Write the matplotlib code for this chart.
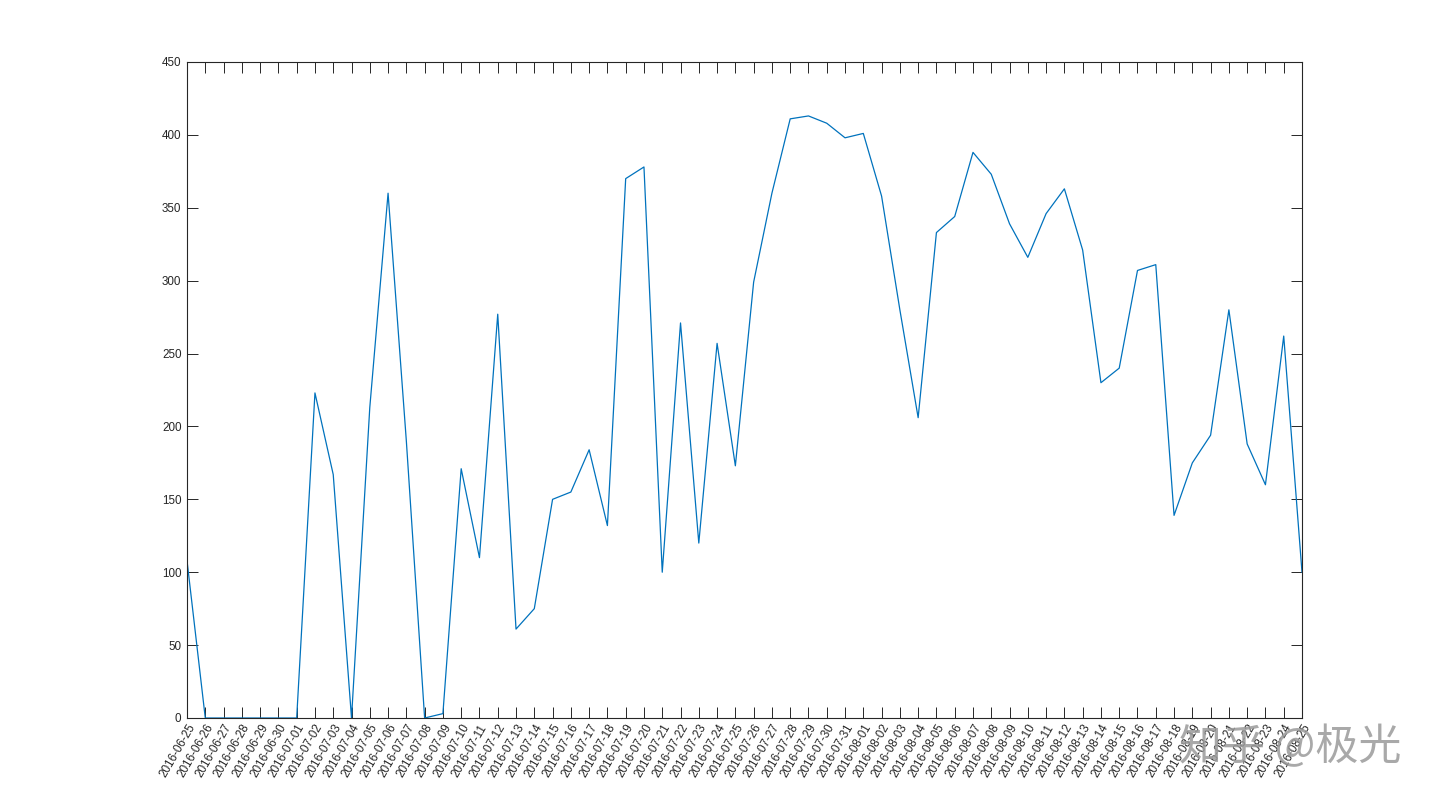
import matplotlib.pyplot as plt
import pandas as pd

# daily values, 2016-06-25 .. 2016-08-25
dates = pd.date_range('2016-06-25', '2016-08-25', freq='D').strftime('%Y-%m-%d').tolist()
values = [
    108, 0, 0, 0, 0, 0, 0, 223, 167, 0,        # 06-25 .. 07-04
    213, 360, 190, 0, 3, 171, 110, 277, 61, 75,  # 07-05 .. 07-14
    150, 155, 184, 132, 370, 378, 100, 271, 120, 257,  # 07-15 .. 07-24
    173, 299, 360, 411, 413, 408, 398, 401, 358, 280,  # 07-25 .. 08-03
    206, 333, 344, 388, 373, 339, 316, 346, 363, 321,  # 08-04 .. 08-13
    230, 240, 307, 311, 139, 175, 194, 280, 188, 160,  # 08-14 .. 08-23
    262, 100,                                    # 08-24 .. 08-25
]
y_ticks = list(range(0, 451, 50))

plt.rcParams['font.family'] = ['Liberation Sans', 'DejaVu Sans']

fig = plt.figure(figsize=(14.4, 8.07), dpi=100)
ax = fig.add_axes([187 / 1440, 1 - 718 / 807, (1302 - 187) / 1440, (718 - 62) / 807])

x = list(range(len(dates)))
ax.plot(x, values, color='#0072BD', linewidth=0.9)

ax.set_xlim(0, len(dates) - 1)
ax.set_ylim(0, 450)
ax.set_yticks(y_ticks)
ax.set_xticks(x)
ax.set_xticklabels(dates, rotation=60, ha='right', va='top',
                   rotation_mode='anchor')

dark = '#262626'
for s in ax.spines.values():
    s.set_color(dark)
    s.set_linewidth(0.8)
ax.tick_params(axis='both', direction='in', length=8, width=0.7, color=dark,
               labelcolor=dark, labelsize=8.4, top=True, right=True)
ax.tick_params(axis='x', pad=3)
ax.tick_params(axis='y', pad=4)

# watermark
fig.text(1290 / 1440, 1 - 748 / 807, '知乎 @极光', fontsize=31,
         family=['Noto Sans CJK SC', 'DejaVu Sans'], color='#9a9a9a',
         alpha=0.85, ha='center', va='center')

fig.savefig('out.png', dpi=100, facecolor='white')
